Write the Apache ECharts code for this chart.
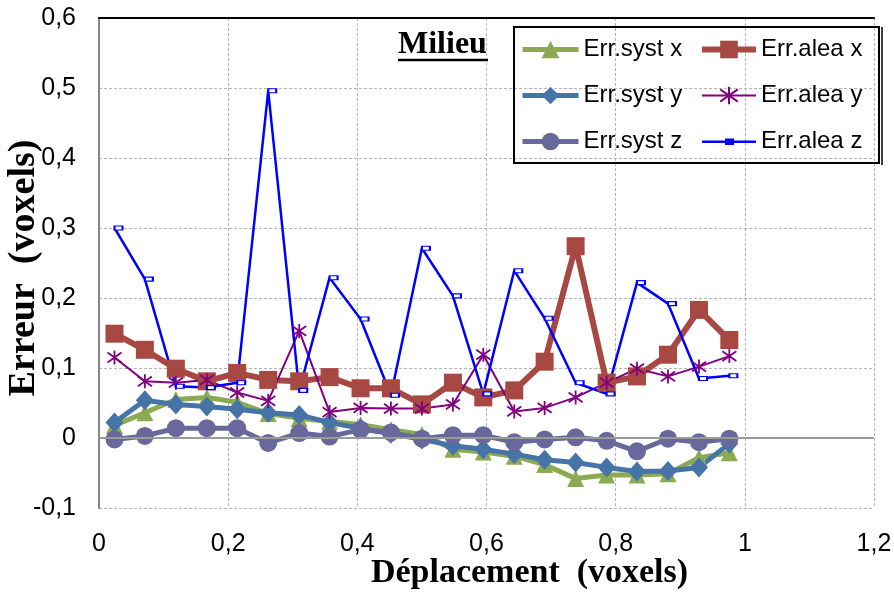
<!DOCTYPE html>
<html><head><meta charset="utf-8">
<script src="https://cdn.jsdelivr.net/npm/echarts@6/dist/echarts.min.js"></script>
<style>html,body{margin:0;padding:0;background:#fff}#c{width:894px;height:597px}</style>
</head><body><div id="c"></div>
<script>
const xVals = [0.024,0.071,0.119,0.167,0.214,0.262,0.310,0.357,0.405,0.452,0.500,0.548,0.595,0.643,0.690,0.738,0.786,0.833,0.881,0.929,0.976];
const systX = [0.018,0.036,0.055,0.058,0.051,0.035,0.028,0.024,0.019,0.012,0.005,-0.016,-0.020,-0.026,-0.038,-0.058,-0.053,-0.053,-0.051,-0.028,-0.021];
const systY = [0.022,0.054,0.048,0.045,0.041,0.036,0.033,0.022,0.014,0.006,-0.002,-0.011,-0.016,-0.023,-0.031,-0.035,-0.042,-0.048,-0.047,-0.042,-0.008];
const systZ = [-0.002,0.003,0.014,0.014,0.014,-0.007,0.007,0.002,0.012,0.008,-0.001,0.004,0.004,-0.006,-0.002,0.001,-0.004,-0.019,-0.001,-0.006,-0.001];
const aleaX = [0.149,0.126,0.099,0.081,0.093,0.083,0.081,0.087,0.071,0.071,0.048,0.079,0.058,0.068,0.109,0.274,0.079,0.088,0.119,0.183,0.140];
const aleaY = [0.115,0.081,0.079,0.083,0.065,0.053,0.153,0.037,0.043,0.042,0.042,0.048,0.119,0.038,0.043,0.058,0.079,0.099,0.088,0.102,0.117];
const aleaZ = [0.300,0.227,0.074,0.072,0.079,0.496,0.068,0.229,0.170,0.061,0.271,0.203,0.063,0.239,0.171,0.079,0.063,0.222,0.192,0.085,0.089];
const seriesNames = ['Err.syst x','Err.syst y','Err.syst z','Err.alea x','Err.alea y','Err.alea z'];
const xTickLabels = ['0','0,2','0,4','0,6','0,8','1','1,2'];
const yTickLabels = ['-0,1','0','0,1','0,2','0,3','0,4','0,5','0,6'];
const titleText = 'Milieu';
const xTitle = 'Déplacement  (voxels)';
const yTitle = 'Erreur  (voxels)';

const pairs = arr => xVals.map((x,i)=>[x,arr[i]]);
const asterisk = 'path://M10 0L10 20M0 3L20 17M0 17L20 3';
const dashIcon = 'path://M0 0L0.1 0L0 0.1Z M54 22L53.9 22L54 21.9Z M0 10L54 10L54 12.5L0 12.5Z M23 8L32 8L32 14.5L23 14.5Z';
const chart = echarts.init(document.getElementById('c'), null, {renderer:'canvas'});
const labelFont = {fontFamily:'Liberation Sans', fontSize:25, color:'#000'};
const split = {show:true, lineStyle:{color:'#b5b5b5', type:[3,2], width:1}};
const legendText = {fontFamily:'Liberation Sans', fontSize:24, color:'#000', lineHeight:25};
chart.setOption({
  animation:false,
  backgroundColor:'#fff',
  grid:{left:99, right:20, top:18, bottom:89, containLabel:false, outerBoundsMode:'none'},
  xAxis:[{
    type:'value', min:0, max:1.2, interval:0.2,
    axisLine:{show:false}, axisTick:{show:false},
    axisLabel:{...labelFont, margin:24, formatter:v=>xTickLabels[Math.round(v/0.2)]},
    splitLine:split,
    name:xTitle, nameLocation:'middle', nameGap:48, nameMoveOverlap:false,
    nameTextStyle:{fontFamily:'Liberation Serif', fontWeight:'bold', fontSize:34, color:'#000', padding:[0,0,0,86]}
  },{
    type:'value', min:0, max:1.2, position:'top',
    axisLine:{show:true, lineStyle:{color:'#000', width:2}},
    axisTick:{show:false}, axisLabel:{show:false}, splitLine:{show:false}
  }],
  yAxis:{
    type:'value', min:-0.1, max:0.6, interval:0.1,
    axisLine:{show:true, lineStyle:{color:'#868686', width:2}}, axisTick:{show:false},
    axisLabel:{...labelFont, margin:23, formatter:v=>yTickLabels[Math.round((v+0.1)/0.1)]},
    splitLine:split,
    name:yTitle, nameLocation:'middle', nameRotate:90, nameGap:56, nameMoveOverlap:false,
    nameTextStyle:{fontFamily:'Liberation Serif', fontWeight:'bold', fontSize:38, color:'#000', padding:[0,10,0,0]}
  },
  legend:[{
    data:seriesNames.slice(0,3), orient:'vertical', left:515, top:32,
    itemWidth:56, itemHeight:22, itemGap:21, lineStyle:{width:'inherit'},
    textStyle:legendText
  },{
    data:[seriesNames[3], seriesNames[4],
      {name:seriesNames[5], icon:dashIcon, itemStyle:{color:'#0000FF', borderWidth:0}}],
    orient:'vertical', left:694, top:32,
    itemWidth:54, itemHeight:22, itemGap:21, lineStyle:{width:'inherit'},
    textStyle:legendText
  }],
  graphic:[
    {type:'rect', shape:{x:514, y:27, width:365, height:136}, style:{fill:'none', stroke:'#000', lineWidth:2}, z:100},
    {type:'line', shape:{x1:882, y1:27, x2:882, y2:165}, style:{stroke:'#000', lineWidth:1.5}, z:100},
    {type:'text', left:398, top:29, style:{text:titleText, fontFamily:'Liberation Serif', fontWeight:'bold', fontSize:32, fill:'#000'}, z:100},
    {type:'line', shape:{x1:398, y1:60, x2:488, y2:60}, style:{stroke:'#000', lineWidth:2.5}, z:100}
  ],
  series:[
    {name:'Err.syst x', type:'line', data:pairs(systX), symbol:'triangle', symbolSize:17,
      lineStyle:{color:'#8BAA52', width:5}, itemStyle:{color:'#8BAA52'},
      markLine:{silent:true, symbol:'none', label:{show:false}, lineStyle:{color:'#9a9a9a', type:'solid', width:2}, data:[{yAxis:0}]}},
    {name:'Err.syst y', type:'line', data:pairs(systY), symbol:'diamond', symbolSize:[18,20],
      lineStyle:{color:'#4674A8', width:5}, itemStyle:{color:'#4674A8'}},
    {name:'Err.syst z', type:'line', data:pairs(systZ), symbol:'circle', symbolSize:18,
      lineStyle:{color:'#68689C', width:5}, itemStyle:{color:'#68689C'}},
    {name:'Err.alea x', type:'line', data:pairs(aleaX), symbol:'rect', symbolSize:18,
      lineStyle:{color:'#A84843', width:6}, itemStyle:{color:'#A84843'}},
    {name:'Err.alea y', type:'line', data:pairs(aleaY), symbol:asterisk, symbolSize:14,
      lineStyle:{color:'#800080', width:2}, itemStyle:{color:'#800080', borderColor:'#800080', borderWidth:1.8}},
    {name:'Err.alea z', type:'line', data:pairs(aleaZ), symbol:'rect', symbolSize:[8,4], symbolOffset:[4,0],
      lineStyle:{color:'#0000FF', width:2.5}, itemStyle:{color:'#fff', borderColor:'#0000FF', borderWidth:1.5}}
  ]
});
</script></body></html>
